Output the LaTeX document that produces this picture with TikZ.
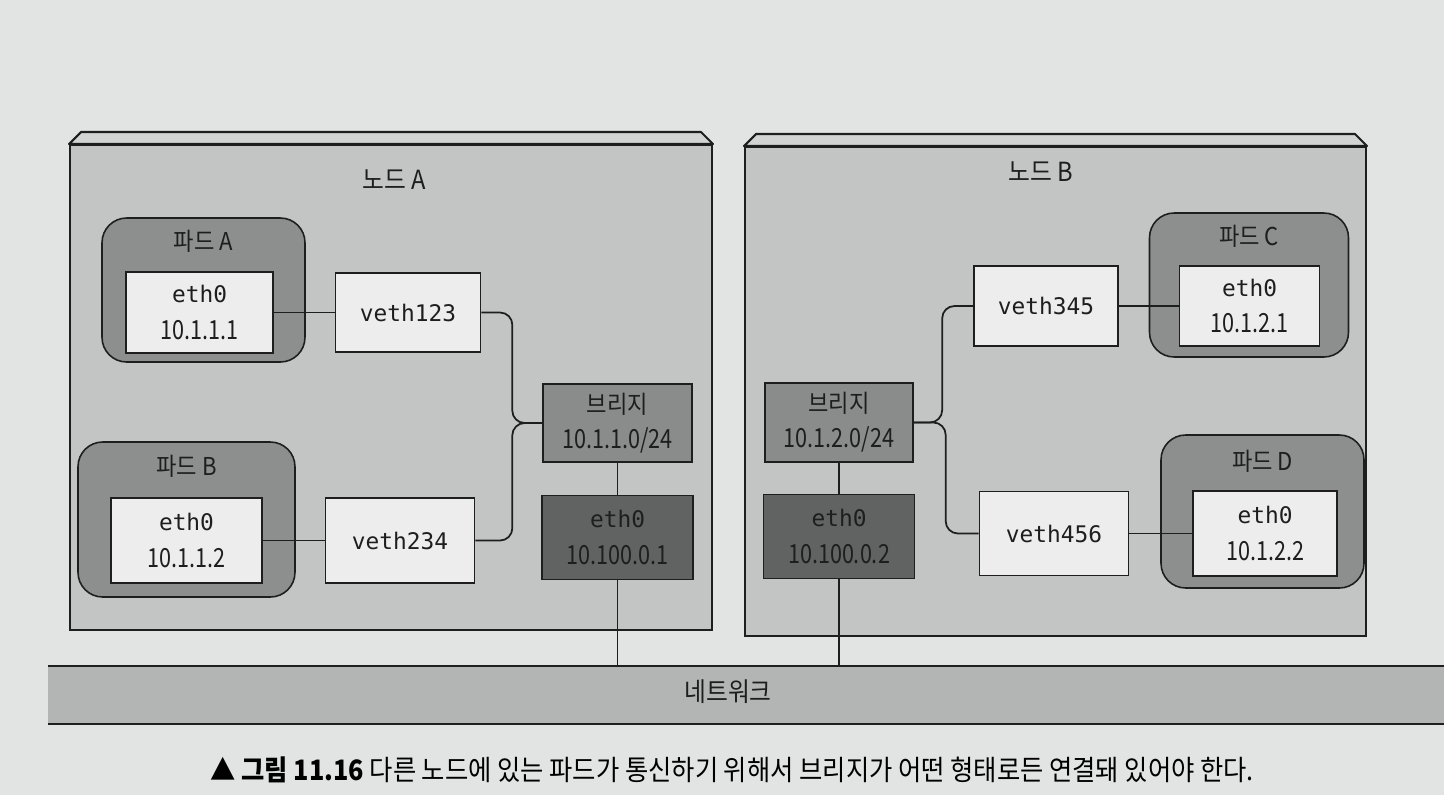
\documentclass[tikz,border=0pt]{standalone}
\usepackage{fontspec}
\setmainfont[FakeStretch=0.9]{Noto Sans CJK KR}
\newfontfamily\ipfont[FakeStretch=0.82]{Noto Sans CJK KR}
\newfontfamily\ethfont{DejaVu Sans Mono}
\usetikzlibrary{positioning}
\definecolor{pagebg}{HTML}{E2E4E3}
\definecolor{hostgray}{HTML}{C3C5C4}
\definecolor{lidgray}{HTML}{D2D4D3}
\definecolor{podgray}{HTML}{8D8E8E}
\definecolor{ifwhite}{HTML}{ECEDEC}
\definecolor{bridgegray}{HTML}{8A8B8B}
\definecolor{nicgray}{HTML}{616262}
\definecolor{netgray}{HTML}{B3B5B4}
\definecolor{inkgray}{HTML}{1E1E1E}

\newcommand{\ifacetext}[2]{{\ethfont\fontsize{13}{15}\selectfont #1}\\[3pt]{\ipfont\fontsize{15}{17}\selectfont #2}}
\newcommand{\bridgetext}[1]{브리지\\[2pt]{\ipfont\fontsize{15}{17}\selectfont #1}}

\begin{document}
\begin{tikzpicture}[x=0.02cm, y=-0.02cm, node distance=1.2cm, inkgray]
% Define styles
\tikzstyle{hostbox} = [rectangle, draw=inkgray, fill=hostgray, line width=1.2pt]
\tikzstyle{lid} = [draw=inkgray, fill=lidgray, line width=1.2pt, line join=round]
\tikzstyle{podbox} = [rectangle, rounded corners=14pt, draw=inkgray, fill=podgray, line width=0.9pt]
\tikzstyle{ifbox} = [rectangle, draw=inkgray, fill=ifwhite, align=center, line width=0.9pt, font=\fontsize{14}{18}\selectfont]
\tikzstyle{vethbox} = [rectangle, draw=inkgray, fill=ifwhite, line width=0.9pt, font=\ethfont\fontsize{13}{15}\selectfont]
\tikzstyle{bridgebox} = [rectangle, draw=inkgray, fill=bridgegray, align=center, line width=0.9pt, font=\fontsize{14}{18}\selectfont]
\tikzstyle{nicbox} = [rectangle, draw=inkgray, fill=nicgray, align=center, line width=0.9pt, font=\fontsize{14}{18}\selectfont]
\tikzstyle{hosttitle} = [inner sep=0pt, font=\fontsize{15}{17}\selectfont]
\tikzstyle{podtitle} = [inner sep=0pt, font=\fontsize{14}{16}\selectfont]
\tikzstyle{link} = [draw=inkgray, line width=1pt, rounded corners=7pt]

% Page and network band
\fill[pagebg] (0,0) rectangle (1444,795);
\useasboundingbox (0,0) rectangle (1444,795);
\fill[netgray] (48,666) rectangle (1444,724);
\draw[line width=1.2pt] (48,666) -- (1444,666) (48,724) -- (1444,724);
\coordinate (netline) at (0,666);
\node (netlabel) [hosttitle] at (728,692) {네트워크};

% Node A
\node (nodeA) [hostbox, minimum width=12.84cm, minimum height=9.7cm] at (391,387.5) {};
\draw[lid] (nodeA.north west) -- ++(12,-12) -- ([shift={(-12,-12)}]nodeA.north east) -- (nodeA.north east) -- cycle;
\node (nodeAtitle) [hosttitle] at (394,180) {노드 A};

\node (podA) [podbox, minimum width=4.06cm, minimum height=2.88cm] at (203.5,290) {};
\node (podAtitle) [podtitle] at ([yshift=-0.48cm]podA.north) {파드 A};
\node (ethA) [ifbox, minimum width=2.94cm, minimum height=1.62cm] at (199.5,312.5) {\ifacetext{eth0}{10.1.1.1}};
\node (veth123) [vethbox, right=1.22cm of ethA, minimum width=2.9cm, minimum height=1.58cm] {veth123};

\node (podB) [podbox, minimum width=4.34cm, minimum height=3.1cm] at (186.5,519.5) {};
\node (podBtitle) [podtitle] at ([yshift=-0.5cm]podB.north) {파드 B};
\node (ethB) [ifbox, minimum width=3.02cm, minimum height=1.7cm] at (186.5,540.5) {\ifacetext{eth0}{10.1.1.2}};
\node (veth234) [vethbox, right=1.24cm of ethB, minimum width=2.98cm, minimum height=1.7cm] {veth234};

\node (bridgeA) [bridgebox, minimum width=2.98cm, minimum height=1.56cm] at (617.5,423) {\bridgetext{10.1.1.0/24}};
\node (nicA) [nicbox, below=0.64cm of bridgeA, minimum width=3.02cm, minimum height=1.68cm] {\ifacetext{eth0}{10.100.0.1}};

% Node B
\node (nodeB) [hostbox, minimum width=12.42cm, minimum height=9.78cm] at (1055.5,391.5) {};
\draw[lid] (nodeB.north west) -- ++(12,-12) -- ([shift={(-12,-12)}]nodeB.north east) -- (nodeB.north east) -- cycle;
\node (nodeBtitle) [hosttitle] at (1041,172) {노드 B};

\node (podC) [podbox, minimum width=3.98cm, minimum height=2.88cm] at (1249,285) {};
\node (podCtitle) [podtitle] at ([yshift=-0.48cm]podC.north) {파드 C};
\node (ethC) [ifbox, minimum width=2.8cm, minimum height=1.6cm] at (1249.5,306) {\ifacetext{eth0}{10.1.2.1}};
\node (veth345) [vethbox, left=1.2cm of ethC, minimum width=2.88cm, minimum height=1.6cm] {veth345};

\node (podD) [podbox, minimum width=4.06cm, minimum height=3.06cm] at (1262.5,511.5) {};
\node (podDtitle) [podtitle] at ([yshift=-0.54cm]podD.north) {파드 D};
\node (ethD) [ifbox, minimum width=2.88cm, minimum height=1.7cm] at (1265,533.5) {\ifacetext{eth0}{10.1.2.2}};
\node (veth456) [vethbox, left=1.26cm of ethD, minimum width=2.98cm, minimum height=1.68cm] {veth456};

\node (bridgeB) [bridgebox, minimum width=2.96cm, minimum height=1.58cm] at (839,422.5) {\bridgetext{10.1.2.0/24}};
\node (nicB) [nicbox, below=0.62cm of bridgeB, minimum width=3.02cm, minimum height=1.68cm] {\ifacetext{eth0}{10.100.0.2}};

% Links
\draw[link] (ethA) -- (veth123);
\draw[link] (ethB) -- (veth234);
\draw[link] (veth123.east) -- ++(31,0) |- (bridgeA.west);
\draw[link] (veth234.east) -- ++(37,0) |- (bridgeA.west);
\draw[link] (bridgeA) -- (nicA);
\draw[link] (nicA.south) -- (nicA.south |- netline);

\draw[link] (veth345) -- (ethC);
\draw[link] (veth456) -- (ethD);
\draw[link] (veth345.west) -- ++(-31,0) |- (bridgeB.east);
\draw[link] (veth456.west) -- ++(-33,0) |- (bridgeB.east);
\draw[link] (bridgeB) -- (nicB);
\draw[link] (nicB.south) -- (nicB.south |- netline);

% Caption
\node (caption) [font=\fontsize{16}{19}\selectfont, text=black] at (732,770) {{\bfseries ▲ 그림 11.16} 다른 노드에 있는 파드가 통신하기 위해서 브리지가 어떤 형태로든 연결돼 있어야 한다.};
\end{tikzpicture}
\end{document}
